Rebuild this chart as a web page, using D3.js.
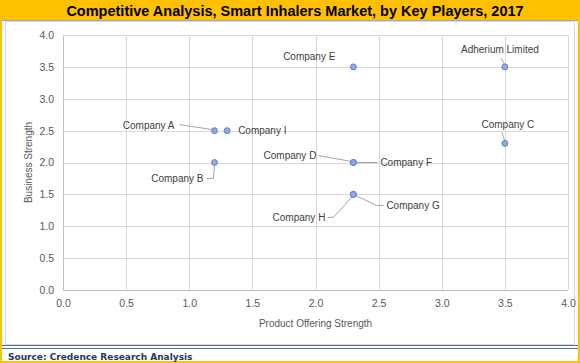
<!DOCTYPE html>
<html>
<head>
<meta charset="utf-8">
<script src="https://cdn.jsdelivr.net/npm/d3@7"></script>
<style>
  body { margin: 0; background: #fff; }
  svg text { font-family: "Liberation Sans", Arial, sans-serif; }
</style>
</head>
<body>
<div id="chart"></div>
<script>
// data
const companies = ['Adherium Limited', 'Company A', 'Company B', 'Company C', 'Company D',
  'Company E', 'Company F', 'Company G', 'Company H', 'Company I']
const productStrength = [3.5, 1.2, 1.2, 3.5, 2.3, 2.3, 2.3, 2.3, 2.3, 1.3]
const businessStrength = [3.5, 2.5, 2.0, 2.3, 2.0, 3.5, 2.0, 1.5, 1.5, 2.5]
const xTicks = [0, 0.5, 1, 1.5, 2, 2.5, 3, 3.5, 4]
const yTicks = [0, 0.5, 1, 1.5, 2, 2.5, 3, 3.5, 4]

// label placement (pixel offsets from the point) and leader lines
const labelLayout = [
  { anchor: 'middle', dx: -5, dy: -17, leader: [[-4, -9], [0, -2]] },
  { anchor: 'end', dx: -40, dy: -5, leader: [[-35, -6], [-2, -1]] },
  { anchor: 'end', dx: -11, dy: 16, leader: [[-8, 16], [-1, 16], [0, 3]] },
  { anchor: 'middle', dx: 3, dy: -19, leader: [[-3, -11], [0, -2]] },
  { anchor: 'end', dx: -37, dy: -7, leader: [[-35, -7], [-2, -1]] },
  { anchor: 'end', dx: -18, dy: -10, leader: null },
  { anchor: 'start', dx: 27, dy: 0, leader: [[3, 0], [24, 0]] },
  { anchor: 'start', dx: 33, dy: 11, leader: [[2, 1], [23, 11], [30, 11]] },
  { anchor: 'end', dx: -28, dy: 23, leader: [[-26, 23], [-20, 23], [-1, 2]] },
  { anchor: 'start', dx: 11, dy: 0, leader: null }
]

const W = 580, H = 363
const svg = d3.select('#chart').append('svg').attr('width', W).attr('height', H)

// frame
svg.append('rect').attr('x', 0).attr('y', 0).attr('width', W).attr('height', H).attr('fill', '#fff')
svg.append('rect').attr('x', 0).attr('y', 0).attr('width', W).attr('height', 20).attr('fill', '#FFC000')
svg.append('line').attr('x1', 0).attr('x2', W).attr('y1', 20.5).attr('y2', 20.5).attr('stroke', '#8EA9DB')
svg.append('rect').attr('x', 5.5).attr('y', 21.5).attr('width', 569).attr('height', 323)
  .attr('fill', 'none').attr('stroke', '#d9d9d9')
svg.append('line').attr('x1', 0).attr('x2', W).attr('y1', 345.5).attr('y2', 345.5).attr('stroke', '#4a72b0')
svg.append('line').attr('x1', 0).attr('x2', W).attr('y1', 348.5).attr('y2', 348.5).attr('stroke', '#4a72b0')
svg.append('rect').attr('x', 1).attr('y', 1).attr('width', W - 2).attr('height', H - 2)
  .attr('fill', 'none').attr('stroke', '#FFC000').attr('stroke-width', 2)

svg.append('text').attr('x', 295).attr('y', 15.5).attr('text-anchor', 'middle')
  .attr('font-size', 14.5).attr('font-weight', 'bold').attr('fill', '#000')
  .text('Competitive Analysis, Smart Inhalers Market, by Key Players, 2017')

svg.append('text').attr('x', 8).attr('y', 359.5)
  .style('font-family', '"DejaVu Sans", Verdana, sans-serif')
  .attr('font-size', 9).attr('font-weight', 'bold').attr('fill', '#1F3864')
  .text('Source: Credence Research Analysis')

// plot
const margin = { left: 63, top: 35, right: 12, bottom: 73 }
const x = d3.scaleLinear().domain([0, 4]).range([margin.left, W - margin.right])
const y = d3.scaleLinear().domain([0, 4]).range([H - margin.bottom, margin.top])

const grid = svg.append('g')
grid.selectAll('.gx').data(xTicks).enter().append('line')
  .attr('x1', d => Math.round(x(d)) + 0.5).attr('x2', d => Math.round(x(d)) + 0.5)
  .attr('y1', y(0)).attr('y2', y(4))
  .attr('stroke', d => d === 0 ? '#bfbfbf' : '#d9d9d9')
grid.selectAll('.gy').data(yTicks).enter().append('line')
  .attr('y1', d => Math.round(y(d)) + 0.5).attr('y2', d => Math.round(y(d)) + 0.5)
  .attr('x1', x(0)).attr('x2', x(4))
  .attr('stroke', d => d === 0 ? '#bfbfbf' : '#d9d9d9')

const xAxis = svg.append('g').attr('transform', 'translate(0,' + y(0) + ')')
  .call(d3.axisBottom(x).tickValues(xTicks).tickFormat(d3.format('.1f')).tickSize(0).tickPadding(10))
const yAxis = svg.append('g').attr('transform', 'translate(' + x(0) + ',0)')
  .call(d3.axisLeft(y).tickValues(yTicks).tickFormat(d3.format('.1f')).tickSize(0).tickPadding(9))
;[xAxis, yAxis].forEach(a => {
  a.select('.domain').remove()
  a.selectAll('text').attr('fill', '#595959').attr('font-size', 10.5)
    .style('font-family', '"Liberation Sans", Arial, sans-serif')
})

svg.append('text').attr('x', x(2)).attr('y', 327).attr('text-anchor', 'middle')
  .attr('font-size', 10).attr('fill', '#595959').text('Product Offering Strength')
svg.append('text').attr('transform', 'translate(32,' + y(2) + ')rotate(-90)')
  .attr('text-anchor', 'middle').attr('font-size', 10).attr('fill', '#595959')
  .text('Business Strength')

const data = companies.map((c, i) => ({
  name: c, px: x(productStrength[i]), py: y(businessStrength[i]), lay: labelLayout[i]
}))

svg.append('g').selectAll('path').data(data.filter(d => d.lay.leader)).enter().append('path')
  .attr('d', d => d3.line()(d.lay.leader.map(p => [d.px + p[0], d.py + p[1]])))
  .attr('fill', 'none').attr('stroke', '#a6a6a6').attr('stroke-width', 1)

svg.append('g').selectAll('circle').data(data).enter().append('circle')
  .attr('cx', d => d.px).attr('cy', d => d.py).attr('r', 3)
  .attr('fill', '#8FAADC').attr('stroke', '#4472C4').attr('stroke-width', 0.75)

svg.append('g').selectAll('text').data(data).enter().append('text')
  .attr('x', d => d.px + d.lay.dx).attr('y', d => d.py + d.lay.dy)
  .attr('dy', '0.35em').attr('text-anchor', d => d.lay.anchor)
  .attr('font-size', 10).attr('fill', '#404040').text(d => d.name)
</script>
</body>
</html>
